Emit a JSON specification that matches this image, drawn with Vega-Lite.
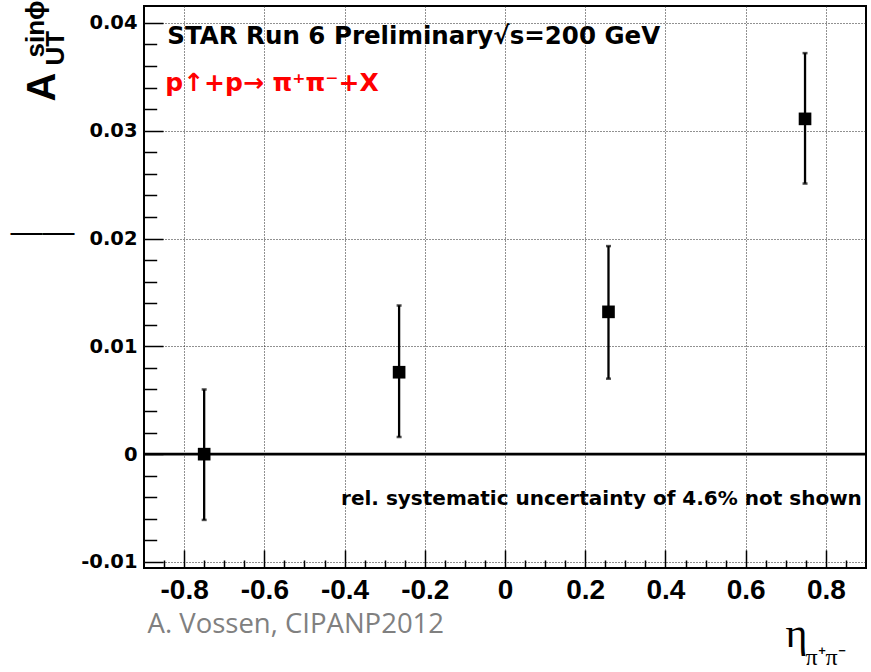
{
  "$schema": "https://vega.github.io/schema/vega-lite/v6.json",
  "width": 722,
  "height": 562,
  "autosize": {"type": "none"},
  "padding": {"left": 144, "top": 6, "right": 5, "bottom": 104},
  "background": "white",
  "config": {
    "view": {"stroke": "#000", "strokeWidth": 2},
    "font": "Liberation Sans",
    "axis": {"gridOpacity": 1, "labelBound": false, "labelFlush": false, "labelOverlap": false}
  },
  "data": {
    "values": [
      {"eta": -0.75, "asym": 0.0, "lo": -0.0061, "hi": 0.006},
      {"eta": -0.264, "asym": 0.0076, "lo": 0.0016, "hi": 0.0138},
      {"eta": 0.258, "asym": 0.0132, "lo": 0.007, "hi": 0.0193},
      {"eta": 0.748, "asym": 0.0311, "lo": 0.0251, "hi": 0.0372}
    ]
  },
  "resolve": {"axis": {"x": "independent", "y": "independent"}},
  "layer": [
    {
      "data": {"values": [{"ref": 0}]},
      "mark": {"type": "rule", "color": "#000", "strokeWidth": 2.7},
      "encoding": {
        "y": {"field": "ref", "type": "quantitative", "axis": null}
      }
    },
    {
      "mark": {"type": "rule", "color": "#000", "strokeWidth": 2.3},
      "encoding": {
        "x": {"field": "eta", "type": "quantitative",
          "axis": {"orient": "bottom", "values": [-0.8, -0.6, -0.4, -0.2, 0, 0.2, 0.4, 0.6, 0.8], "ticks": true, "tickSize": -18, "tickWidth": 1.5, "tickColor": "#000", "labels": false, "grid": false, "domain": false,
            "title": "π⁺π⁻", "titleFont": "Liberation Serif", "titleFontWeight": "normal", "titleFontSize": 24, "titleColor": "#000", "titleX": 661, "titleY": 96, "titleAlign": "left", "titleBaseline": "alphabetic", "titleAngle": 0}},
        "y": {"field": "lo", "type": "quantitative",
          "axis": {"orient": "left", "values": [-0.01, 0, 0.01, 0.02, 0.03, 0.04], "ticks": true, "tickSize": -19, "tickWidth": 1.5, "tickColor": "#000", "labels": false, "grid": false, "domain": false,
            "title": "UT", "titleFont": "Liberation Sans", "titleFontWeight": "bold", "titleFontSize": 26, "titleColor": "#000", "titleX": -81, "titleY": 59, "titleAlign": "left", "titleBaseline": "alphabetic", "titleAngle": 270}},
        "y2": {"field": "hi"}
      }
    },
    {
      "mark": {"type": "tick", "orient": "horizontal", "color": "#000", "size": 5, "thickness": 2.5},
      "encoding": {
        "x": {"field": "eta", "type": "quantitative",
          "axis": {"orient": "bottom", "values": [-0.85, -0.75, -0.7, -0.65, -0.55, -0.5, -0.45, -0.35, -0.3, -0.25, -0.15, -0.1, -0.05, 0.05, 0.1, 0.15, 0.25, 0.3, 0.35, 0.45, 0.5, 0.55, 0.65, 0.7, 0.75, 0.85], "ticks": true, "tickSize": -8, "tickWidth": 1.5, "tickColor": "#000", "labels": false, "grid": false, "domain": false,
            "title": "A. Vossen, CIPANP2012", "titleFont": "Open Sans", "titleFontWeight": "normal", "titleFontSize": 27.5, "titleColor": "#808080", "titleX": 3, "titleY": 64, "titleAlign": "left", "titleBaseline": "alphabetic", "titleAngle": 0}},
        "y": {"field": "lo", "type": "quantitative",
          "axis": {"orient": "left", "values": [-0.008, -0.006, -0.004, -0.002, 0.002, 0.004, 0.006, 0.008, 0.012, 0.014, 0.016, 0.018, 0.022, 0.024, 0.026, 0.028, 0.032, 0.034, 0.036, 0.038], "ticks": true, "tickSize": -12.7, "tickWidth": 1.5, "tickColor": "#000", "labels": false, "grid": false, "domain": false,
            "title": "sinϕ", "titleFont": "Liberation Sans", "titleFontWeight": "bold", "titleFontSize": 26, "titleColor": "#000", "titleX": -101, "titleY": 51, "titleAlign": "left", "titleBaseline": "alphabetic", "titleAngle": 270}}
      }
    },
    {
      "mark": {"type": "tick", "orient": "horizontal", "color": "#000", "size": 5, "thickness": 2.5},
      "encoding": {
        "x": {"field": "eta", "type": "quantitative", "axis": null},
        "y": {"field": "hi", "type": "quantitative",
          "axis": {"orient": "left", "ticks": false, "labels": false, "grid": false, "domain": false,
            "title": "——", "titleFont": "Liberation Sans", "titleFontWeight": "normal", "titleFontSize": 32, "titleColor": "#000", "titleX": -134, "titleY": 235, "titleAlign": "left", "titleBaseline": "alphabetic", "titleAngle": 0}}
      }
    },
    {
      "mark": {"type": "point", "shape": "square", "filled": true, "size": 160, "color": "#000", "opacity": 1},
      "encoding": {
        "x": {"field": "eta", "type": "quantitative",
          "scale": {"domain": [-0.9, 0.9], "nice": false, "zero": false},
          "axis": {"orient": "bottom", "values": [-0.8, -0.6, -0.4, -0.2, 0, 0.2, 0.4, 0.6, 0.8], "ticks": false, "domain": false, "grid": true, "gridDash": [1, 2], "gridColor": "#222", "gridWidth": 1,
            "labelFont": "Liberation Sans", "labelFontWeight": "bold", "labelFontSize": 28, "labelColor": "#000", "labelPadding": 8,
            "labelExpr": "replace(format(datum.value, '~g'), '−', '-')",
            "title": "η", "titleFont": "Liberation Serif", "titleFontWeight": "normal", "titleFontSize": 42, "titleColor": "#000", "titleX": 641, "titleY": 78, "titleAlign": "left", "titleBaseline": "alphabetic", "titleAngle": 0}},
        "y": {"field": "asym", "type": "quantitative",
          "scale": {"domain": [-0.01056, 0.04157], "nice": false, "zero": false},
          "axis": {"orient": "left", "values": [-0.01, 0, 0.01, 0.02, 0.03, 0.04], "ticks": false, "domain": false, "grid": true, "gridDash": [1, 2], "gridColor": "#222", "gridWidth": 1,
            "labelFont": "DejaVu Sans", "labelFontWeight": "bold", "labelFontSize": 19.5, "labelColor": "#000", "labelPadding": 7,
            "labelExpr": "replace(format(datum.value, '~g'), '−', '-')",
            "title": "A", "titleFont": "Liberation Sans", "titleFontWeight": "bold", "titleFontSize": 40, "titleColor": "#000", "titleX": -90, "titleY": 95, "titleAlign": "left", "titleBaseline": "alphabetic", "titleAngle": 270}}
      }
    },
    {
      "data": {"values": [{"label": "STAR Run 6 Preliminary√s=200 GeV"}]},
      "mark": {"type": "text", "align": "left", "baseline": "alphabetic", "font": "DejaVu Sans", "fontWeight": "bold", "fontSize": 24.5, "color": "#000"},
      "encoding": {
        "x": {"datum": -0.842, "axis": null},
        "y": {"datum": 0.03806, "axis": null},
        "text": {"field": "label"}
      }
    },
    {
      "data": {"values": [{"label": "p↑+p→ π⁺π⁻+X"}]},
      "mark": {"type": "text", "align": "left", "baseline": "alphabetic", "font": "DejaVu Sans", "fontWeight": "bold", "fontSize": 25, "color": "#ff0000"},
      "encoding": {
        "x": {"datum": -0.847, "axis": null},
        "y": {"datum": 0.0337, "axis": null},
        "text": {"field": "label"}
      }
    },
    {
      "data": {"values": [{"label": "rel. systematic uncertainty of 4.6% not shown"}]},
      "mark": {"type": "text", "align": "right", "baseline": "alphabetic", "font": "DejaVu Sans", "fontWeight": "bold", "fontSize": 20, "color": "#000"},
      "encoding": {
        "x": {"datum": 0.8897, "axis": null},
        "y": {"datum": -0.00472, "axis": null},
        "text": {"field": "label"}
      }
    }
  ]
}
